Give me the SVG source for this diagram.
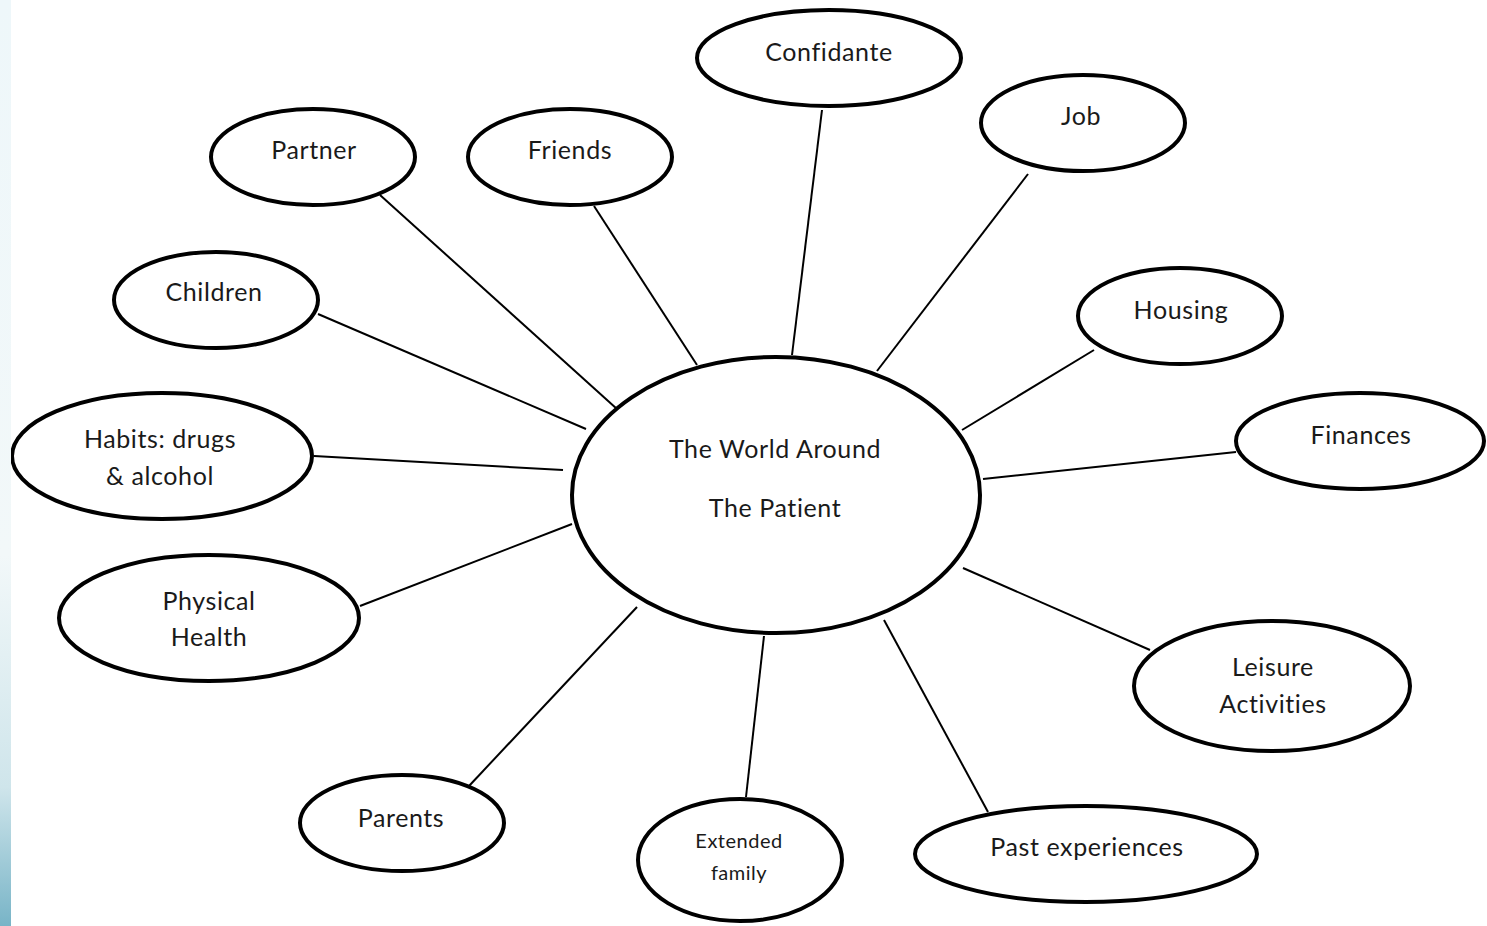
<svg xmlns="http://www.w3.org/2000/svg" width="1487" height="926" viewBox="0 0 1487 926">
<defs>
<linearGradient id="strip" x1="0" y1="0" x2="0" y2="1">
<stop offset="0" stop-color="#eef7fa"/>
<stop offset="0.6" stop-color="#f2f8f9"/>
<stop offset="0.85" stop-color="#cfe5eb"/>
<stop offset="1" stop-color="#78b4c7"/>
</linearGradient>
</defs>
<style>
.n{fill:#fff;stroke:#000;stroke-width:4}
.c{stroke:#000;stroke-width:2;fill:none}
text{font-family:Lato,"Open Sans","Liberation Sans",sans-serif;font-size:25px;letter-spacing:0.6px;font-variant-ligatures:none;fill:#1a1a1a;text-anchor:middle}
.s{font-size:20px;letter-spacing:0.5px}
</style>
<rect width="1487" height="926" fill="#fff"/>
<g id="connectors">
<line class="c" x1="380" y1="195" x2="617" y2="409"/>
<line class="c" x1="594" y1="206" x2="697" y2="365"/>
<line class="c" x1="822" y1="110" x2="792" y2="355"/>
<line class="c" x1="1028" y1="174" x2="877" y2="371"/>
<line class="c" x1="318" y1="314" x2="586" y2="429"/>
<line class="c" x1="1094" y1="350" x2="962" y2="430"/>
<line class="c" x1="314" y1="456" x2="563" y2="470"/>
<line class="c" x1="1236" y1="452" x2="983" y2="479"/>
<line class="c" x1="360" y1="606" x2="572" y2="524"/>
<line class="c" x1="963" y1="568" x2="1150" y2="650"/>
<line class="c" x1="469" y1="786" x2="637" y2="607"/>
<line class="c" x1="764" y1="636" x2="746" y2="797"/>
<line class="c" x1="884" y1="620" x2="988" y2="812"/>
</g>
<g id="center"><ellipse class="n" cx="776" cy="495" rx="204" ry="138" stroke-width="5"/><text x="775" y="458">The World Around</text><text x="775" y="517">The Patient</text></g>
<g id="confidante"><ellipse class="n" cx="829" cy="58" rx="132" ry="48"/><text x="829" y="61">Confidante</text></g>
<g id="job"><ellipse class="n" cx="1083" cy="123" rx="102" ry="48"/><text x="1081" y="125">Job</text></g>
<g id="partner"><ellipse class="n" cx="313" cy="157" rx="102" ry="48"/><text x="314" y="159">Partner</text></g>
<g id="friends"><ellipse class="n" cx="570" cy="157" rx="102" ry="48"/><text x="570" y="159">Friends</text></g>
<g id="children"><ellipse class="n" cx="216" cy="300" rx="102" ry="48"/><text x="214" y="301">Children</text></g>
<g id="housing"><ellipse class="n" cx="1180" cy="316" rx="102" ry="48"/><text x="1181" y="319">Housing</text></g>
<g id="habits"><ellipse class="n" cx="162" cy="456" rx="150" ry="63"/><text x="160" y="448">Habits: drugs</text><text x="160" y="485">&amp; alcohol</text></g>
<g id="finances"><ellipse class="n" cx="1360" cy="441" rx="124" ry="48"/><text x="1361" y="444">Finances</text></g>
<g id="physical"><ellipse class="n" cx="209" cy="618" rx="150" ry="63"/><text x="209" y="610">Physical</text><text x="209" y="646">Health</text></g>
<g id="leisure"><ellipse class="n" cx="1272" cy="686" rx="138" ry="65"/><text x="1273" y="676">Leisure</text><text x="1273" y="713">Activities</text></g>
<g id="parents"><ellipse class="n" cx="402" cy="823" rx="102" ry="48"/><text x="401" y="827">Parents</text></g>
<g id="extended"><ellipse class="n" cx="740" cy="860" rx="102" ry="61"/><text class="s" x="739" y="848">Extended</text><text class="s" x="739" y="880">family</text></g>
<g id="past"><ellipse class="n" cx="1086" cy="854" rx="171" ry="48"/><text x="1087" y="856">Past experiences</text></g>
<rect x="0" y="0" width="11" height="926" fill="url(#strip)"/>
</svg>
